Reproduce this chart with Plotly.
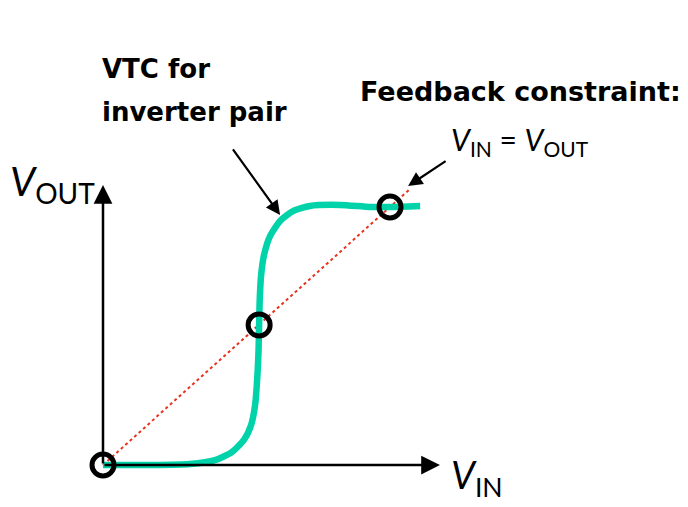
import plotly.graph_objects as go

# VTC of inverter pair (normalized V_IN, V_OUT)
vtc_vin = [0, 0.164, 0.303, 0.390, 0.449, 0.491, 0.516, 0.530, 0.537, 0.542, 0.544,
           0.546, 0.551, 0.561, 0.582, 0.617, 0.662, 0.721, 0.826, 0.930, 1.0, 1.105]
vtc_vout = [0, 0, 0.004, 0.019, 0.050, 0.097, 0.155, 0.233, 0.329, 0.446, 0.543,
            0.640, 0.736, 0.814, 0.887, 0.946, 0.984, 1.004, 1.008, 1.0, 1.0, 1.004]
# Feedback constraint V_IN = V_OUT
diag_v = [0, 1.065]
# Fixed points (intersections)
fp_vin = [0, 0.544, 1.0]
fp_vout = [0, 0.543, 1.0]

FONT_B = "'DejaVu Sans', sans-serif"
FONT = "Lato, 'Noto Sans', sans-serif"

fig = go.Figure()
fig.add_trace(go.Scatter(x=diag_v, y=diag_v, mode="lines",
                         line=dict(color="#E8321E", width=2, dash="dot"), hoverinfo="skip"))
fig.add_trace(go.Scatter(x=vtc_vin, y=vtc_vout, mode="lines",
                         line=dict(color="#00D2AA", width=6.5, shape="spline", smoothing=0.6),
                         hoverinfo="skip"))
fig.add_trace(go.Scatter(x=fp_vin, y=fp_vout, mode="markers",
                         marker=dict(symbol="circle-open", size=22, color="black",
                                     line=dict(width=5, color="black")),
                         hoverinfo="skip"))

ann = []
# axes arrows
ann.append(dict(x=0, y=1.085, ax=0, ay=0, xref="x", yref="y", axref="x", ayref="y",
                showarrow=True, arrowhead=2, arrowsize=1.5, arrowwidth=2.5, arrowcolor="black", text=""))
ann.append(dict(x=1.174, y=0, ax=0, ay=0, xref="x", yref="y", axref="x", ayref="y",
                showarrow=True, arrowhead=2, arrowsize=1.5, arrowwidth=2.5, arrowcolor="black", text=""))
# pointer arrows
ann.append(dict(x=0.617, y=0.969, ax=0.449, ay=1.229, xref="x", yref="y", axref="x", ayref="y",
                showarrow=True, arrowhead=2, arrowsize=1.3, arrowwidth=2.2, arrowcolor="black", text=""))
ann.append(dict(x=1.063, y=1.081, ax=1.199, ay=1.182, xref="x", yref="y", axref="x", ayref="y",
                showarrow=True, arrowhead=2, arrowsize=1.3, arrowwidth=2.2, arrowcolor="black", text=""))
# texts
ann.append(dict(x=-0.012, y=1.535, xref="x", yref="y", xanchor="left", yanchor="middle",
                showarrow=False, text="<b>VTC for</b>",
                font=dict(family=FONT_B, size=26, color="black")))
ann.append(dict(x=-0.012, y=1.37, xref="x", yref="y", xanchor="left", yanchor="middle",
                showarrow=False, text="<b>inverter pair</b>",
                font=dict(family=FONT_B, size=26, color="black")))
ann.append(dict(x=1.453, y=1.446, xref="x", yref="y", xanchor="center", yanchor="middle",
                showarrow=False, text="<b>Feedback constraint:</b>",
                font=dict(family=FONT_B, size=27, color="black")))
ann.append(dict(x=1.453, y=1.255, xref="x", yref="y", xanchor="center", yanchor="middle",
                showarrow=False, text="<i>V</i><sub>IN</sub> = <i>V</i><sub>OUT</sub>",
                font=dict(family=FONT, size=30, color="black")))
ann.append(dict(x=-0.33, y=1.09, xref="x", yref="y", xanchor="left", yanchor="middle",
                showarrow=False, text="<i>V</i><sub>OUT</sub>",
                font=dict(family=FONT, size=40, color="black")))
ann.append(dict(x=1.205, y=-0.045, xref="x", yref="y", xanchor="left", yanchor="middle",
                showarrow=False, text="<i>V</i><sub>IN</sub>",
                font=dict(family=FONT, size=38, color="black")))

fig.update_layout(
    width=688, height=507, margin=dict(l=0, r=0, t=0, b=0),
    paper_bgcolor="white", plot_bgcolor="white", showlegend=False,
    xaxis=dict(range=[-0.3589, 2.0383], visible=False, fixedrange=True),
    yaxis=dict(range=[-0.1628, 1.8023], visible=False, fixedrange=True),
    annotations=ann,
)
fig.write_html("out.html", config={"displayModeBar": False},
               post_script="document.body.style.margin='0';document.body.style.overflow='hidden';")
